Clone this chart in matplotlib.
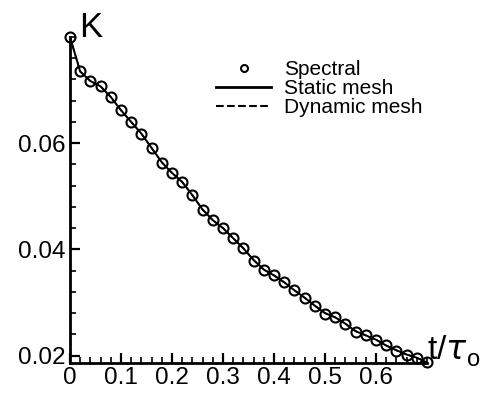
import matplotlib.pyplot as plt
from matplotlib.lines import Line2D
from matplotlib.ticker import MultipleLocator

plt.rcParams['font.family'] = ['Liberation Sans', 'DejaVu Sans']

# time t/tau_o
t = [0.00, 0.02, 0.04, 0.06, 0.08, 0.10, 0.12, 0.14, 0.16, 0.18,
     0.20, 0.22, 0.24, 0.26, 0.28, 0.30, 0.32, 0.34, 0.36, 0.38,
     0.40, 0.42, 0.44, 0.46, 0.48, 0.50, 0.52, 0.54, 0.56, 0.58,
     0.60, 0.62, 0.64, 0.66, 0.68, 0.70]

# spectral solution
k_spectral = [0.0800, 0.0735, 0.0717, 0.0708, 0.0687, 0.0662, 0.0640, 0.0618, 0.0591, 0.0563,
              0.0544, 0.0527, 0.0502, 0.0474, 0.0455, 0.0440, 0.0421, 0.0402, 0.0379, 0.0362,
              0.0351, 0.0338, 0.0323, 0.0309, 0.0294, 0.0279, 0.0272, 0.0260, 0.0245, 0.0238,
              0.0230, 0.0219, 0.0209, 0.0202, 0.0196, 0.0187]

# static mesh
k_static = [0.0800, 0.0735, 0.0717, 0.0707, 0.0687, 0.0662, 0.0640, 0.0618, 0.0591, 0.0564,
            0.0544, 0.0527, 0.0502, 0.0475, 0.0455, 0.0440, 0.0421, 0.0402, 0.0380, 0.0362,
            0.0351, 0.0338, 0.0323, 0.0309, 0.0294, 0.0280, 0.0272, 0.0260, 0.0246, 0.0238,
            0.0230, 0.0219, 0.0210, 0.0202, 0.0196, 0.0187]

# dynamic mesh
k_dynamic = [0.0800, 0.0735, 0.0717, 0.0707, 0.0687, 0.0662, 0.0640, 0.0618, 0.0591, 0.0564,
             0.0544, 0.0527, 0.0502, 0.0475, 0.0455, 0.0440, 0.0421, 0.0402, 0.0380, 0.0362,
             0.0351, 0.0338, 0.0323, 0.0309, 0.0294, 0.0280, 0.0272, 0.0260, 0.0246, 0.0238,
             0.0230, 0.0219, 0.0210, 0.0202, 0.0196, 0.0187]

fig = plt.figure(figsize=(4.84, 3.93), dpi=100)
ax = fig.add_axes([0.1446, 0.0763, 0.7376, 0.8296])

ax.plot(t, k_static, color='black', lw=1.4, ls='-')
ax.plot(t, k_dynamic, color='black', lw=1.2, ls='--')
ax.plot(t, k_spectral, ls='none', marker='o', ms=7.2, mfc='none', mec='black', mew=1.5,
        clip_on=False)

ax.set_xlim(0, 0.70)
ax.set_ylim(0.0186, 0.080)
ax.xaxis.set_minor_locator(MultipleLocator(0.02))
ax.yaxis.set_minor_locator(MultipleLocator(0.004))
ax.set_xticks([0, 0.1, 0.2, 0.3, 0.4, 0.5, 0.6])
ax.set_xticklabels(['0', '0.1', '0.2', '0.3', '0.4', '0.5', '0.6'])
ax.set_yticks([0.02, 0.04, 0.06])
ax.set_yticklabels(['0.02', '0.04', '0.06'])

for s in ['top', 'right']:
    ax.spines[s].set_visible(False)
for s in ['left', 'bottom']:
    ax.spines[s].set_linewidth(2)

ax.tick_params(which='major', direction='in', length=7, width=1.6, labelsize=17.5, pad=3)
ax.tick_params(which='minor', direction='in', length=4, width=1.2)

ax.text(0.018, 0.0818, 'K', fontsize=25, ha='left', va='center')
ax.text(1.0, -0.01, r't/$\tau$', transform=ax.transAxes, fontsize=24, ha='left',
        va='bottom')
fig.text(0.964, 0.055, 'o', fontsize=17, ha='left', va='bottom')

handles = [
    Line2D([], [], ls='none', marker='o', ms=5, mfc='none', mec='black', mew=1.5),
    Line2D([], [], color='black', lw=2),
    Line2D([], [], color='black', lw=1.5, ls='--'),
]
ax.legend(handles, ['Spectral', 'Static mesh', 'Dynamic mesh'], frameon=False,
          fontsize=15, loc='upper left', bbox_to_anchor=(0.38, 0.96),
          handlelength=2.65, handletextpad=0.6, labelspacing=0.0, borderpad=0)

fig.savefig('out.png', dpi=100)
